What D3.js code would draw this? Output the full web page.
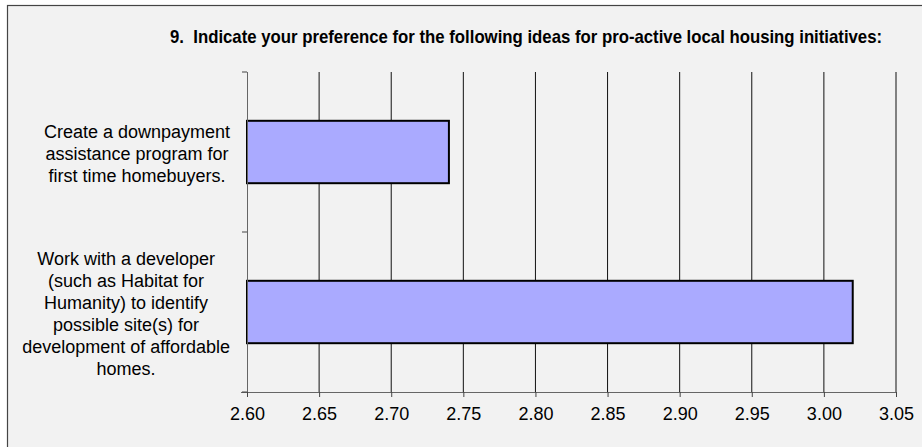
<!DOCTYPE html>
<html>
<head>
<meta charset="utf-8">
<title>Pro-active local housing initiatives</title>
<script src="https://d3js.org/d3.v7.min.js"></script>
<style>
  body { margin: 0; background: #fff; }
  text { font-family: "Liberation Sans", Arial, sans-serif; fill: #000; }
</style>
</head>
<body>
<div id="chart"></div>
<script>
// data
var titleText = "9.  Indicate your preference for the following ideas for pro-active local housing initiatives:";
var categories = [
  ["Create a downpayment", "assistance program for", "first time homebuyers."],
  ["Work with a developer", "(such as Habitat for", "Humanity) to identify", "possible site(s) for", "development of affordable", "homes."]
];
var values = [2.74, 3.02];
var xTicks = [2.60, 2.65, 2.70, 2.75, 2.80, 2.85, 2.90, 2.95, 3.00, 3.05];

var W = 922, H = 447;
var margin = {top: 72, right: 26, bottom: 55, left: 247};
var width = W - margin.left - margin.right,
    height = H - margin.top - margin.bottom;

var svg = d3.select("#chart").append("svg")
  .attr("width", W)
  .attr("height", H);

// chart area (border runs off the right / bottom of the picture)
svg.append("rect")
  .attr("x", 7.5).attr("y", 5.5)
  .attr("width", 1000).attr("height", 1000)
  .attr("fill", "#f2f2f2")
  .attr("stroke", "#444")
  .attr("stroke-width", 1.2);

// title, squeezed horizontally like the original narrow bold face
var title = svg.append("text")
  .attr("x", 0).attr("y", 0)
  .style("white-space", "pre")
  .style("font-weight", "bold")
  .style("font-size", "18px")
  .text(titleText);
var tw = title.node().getComputedTextLength();
title.attr("transform", "translate(170,43) scale(" + (713 / tw) + ",1)");

var g = svg.append("g")
  .attr("transform", "translate(" + margin.left + "," + margin.top + ")");

var x = d3.scaleLinear()
  .domain([2.60, 3.05])
  .range([0, width]);

var y = d3.scaleBand()
  .domain(d3.range(categories.length))
  .range([0, height])
  .padding(0);

// gridlines
g.selectAll(".grid")
  .data(xTicks.slice(1))
  .enter().append("line")
  .attr("x1", function(d) { return x(d); })
  .attr("x2", function(d) { return x(d); })
  .attr("y1", 0)
  .attr("y2", height)
  .attr("stroke", "#111")
  .attr("stroke-width", 1);

// bars
var barH = y.bandwidth() * 0.39;
g.selectAll(".bar")
  .data(values)
  .enter().append("rect")
  .attr("x", x(2.60))
  .attr("y", function(d, i) { return y(i) + (y.bandwidth() - barH) / 2; })
  .attr("width", function(d) { return x(d) - x(2.60); })
  .attr("height", barH)
  .attr("fill", "#aaaaff")
  .attr("stroke", "#000")
  .attr("stroke-width", 2);

// x axis
var xAxis = g.append("g")
  .attr("transform", "translate(0," + height + ")")
  .call(d3.axisBottom(x).tickValues(xTicks).tickFormat(d3.format(".2f")).tickSize(5).tickSizeOuter(0));
xAxis.select(".domain").attr("stroke", "#666").attr("d", "M-6,0.5H" + width);
xAxis.selectAll(".tick line").attr("stroke", "#444");
xAxis.selectAll(".tick text")
  .attr("dy", "1.1em")
  .style("font-size", "18px")
  .style("font-family", "'Liberation Sans', Arial, sans-serif");

// y axis: line plus ticks on the category boundaries
g.append("line")
  .attr("x1", 0.5).attr("x2", 0.5)
  .attr("y1", 0).attr("y2", height)
  .attr("stroke", "#666");
g.selectAll(".ytick")
  .data(d3.range(categories.length + 1))
  .enter().append("line")
  .attr("x1", -5).attr("x2", 0)
  .attr("y1", function(d) { return d * y.step(); })
  .attr("y2", function(d) { return d * y.step(); })
  .attr("stroke", "#444");

// category labels, wrapped and centred
var lineH = 22;
categories.forEach(function(lines, i) {
  var t = g.append("text")
    .attr("text-anchor", "middle")
    .style("font-size", "18px");
  lines.forEach(function(s, j) {
    t.append("tspan")
      .attr("x", 0)
      .attr("y", y(i) + y.bandwidth() / 2 + 2 + (j - (lines.length - 1) / 2) * lineH)
      .attr("dy", "0.35em")
      .text(s);
  });
  var maxW = d3.max(t.selectAll("tspan").nodes(), function(n) { return n.getComputedTextLength(); });
  t.selectAll("tspan").attr("x", -17 - maxW / 2);
});
</script>
</body>
</html>
